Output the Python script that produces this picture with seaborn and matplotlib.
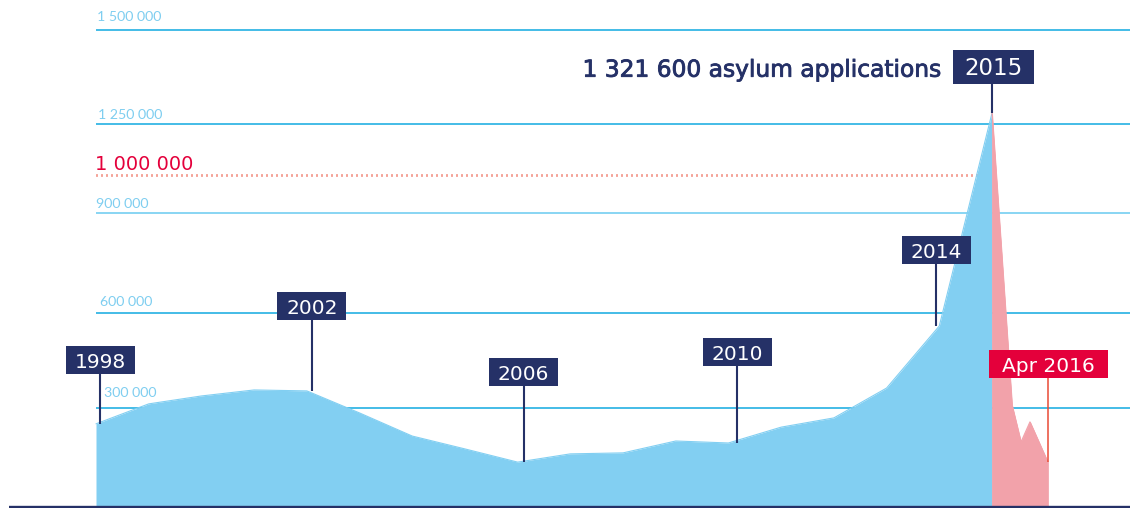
import numpy as np
import matplotlib
matplotlib.use("Agg")
import matplotlib.pyplot as plt
import matplotlib.patheffects as pe
from matplotlib.patches import Rectangle
import seaborn as sns

# ---------------- data ----------------
years = [1998, 1999, 2000, 2001, 2002, 2003, 2004, 2005, 2006, 2007, 2008,
         2009, 2010, 2011, 2012, 2013, 2014, 2015]
applications = [252000, 313000, 338000, 357000, 354000, 285000, 215000, 176000,
                136000, 161000, 164000, 200000, 194000, 242000, 270000, 363000,
                559000, 1321600]
recent_x = [2015.0, 2015.38, 2015.55, 2015.72, 2016.06]
recent_values = [1321600, 309000, 197000, 258000, 136000]

grid_values = [300000, 600000, 900000, 1250000, 1500000]
grid_labels = ["300 000", "600 000", "900 000", "1 250 000", "1 500 000"]
threshold_value = 1000000
threshold_label = "1 000 000"

flag_years = [1998, 2002, 2006, 2010, 2014]
flag_labels = ["1998", "2002", "2006", "2010", "2014"]
peak_year = 2015
peak_label = "2015"
peak_text = "1 321 600 asylum applications"
latest_label = "Apr 2016"

# the chart's own (uneven) value axis: value -> height in px above the baseline
scale_values = [-300000, 0, 300000, 600000, 900000, 1000000, 1250000, 1321600, 1500000, 2000000]
scale_heights = [-99, 0, 99, 194, 294.3, 332, 383.5, 394, 477.5, 665.5]

# ---------------- style ----------------
NAVY = "#253167"
BLUE_AREA = "#82CFF2"
PINK_AREA = "#F2A2AA"
GRID = "#35B6E5"
GRID_LIGHT = "#7FD2F2"
LABEL_BLUE = "#7FCEF0"
RED = "#E4003B"
RED_LINE = "#EA4A35"

W, H = 1137, 508
BASE = 507                      # baseline row in px
PPY = (992 - 96) / 17.0         # px per year


def fwd(v):
    return np.interp(v, scale_values, scale_heights)


def inv(h):
    return np.interp(h, scale_heights, scale_values)


def xd(px):
    return 1998 + (px - 96) / PPY


def yd(py):
    return float(inv(BASE - py))


sns.set_theme(style="white")
plt.rcParams["font.family"] = ["DejaVu Sans"]

fig = plt.figure(figsize=(W / 100, H / 100), dpi=100)
fig.patch.set_facecolor("white")
ax = fig.add_axes([0, 0, 1, 1])
ax.set_yscale("function", functions=(fwd, inv))

# gridlines + labels
grid_colors = [GRID, GRID, GRID_LIGHT, GRID, GRID]
grid_label_x = [104, 100, 96, 98, 97]
grid_label_base = [397, 306, 208, 119, 21]
for v, lab, c, lx, lb in zip(grid_values, grid_labels, grid_colors, grid_label_x, grid_label_base):
    ax.plot([xd(96), xd(1130)], [v, v], color=c, lw=1.3, zorder=1, solid_capstyle="butt")
    ax.text(xd(lx), yd(lb), lab, color=LABEL_BLUE, fontsize=10.2, fontweight="normal",
            family=["Lato", "DejaVu Sans"], va="baseline", ha="left", zorder=1)

# threshold dotted line
ax.plot([xd(96), xd(990)], [threshold_value, threshold_value], color=RED_LINE, lw=2.0,
        linestyle=(0, (0.36, 1.44)), zorder=1, dash_capstyle="butt")
ax.text(xd(95), yd(169.5), threshold_label, color=RED, fontsize=14, va="baseline", ha="left")

# areas
ax.fill_between(years, 0, applications, color=BLUE_AREA, lw=0, zorder=2)
sns.lineplot(x=years, y=applications, color=BLUE_AREA, lw=0.8, ax=ax, zorder=2)
ax.fill_between(recent_x, 0, recent_values, facecolor=PINK_AREA, edgecolor=PINK_AREA,
                lw=0.6, zorder=2.1)
sns.lineplot(x=recent_x, y=recent_values, color=PINK_AREA, lw=0.8, ax=ax, zorder=2.1)

# baseline
ax.plot([xd(9), xd(1130)], [0, 0], color=NAVY, lw=1.7, zorder=5, solid_capstyle="butt")

# flags
flag_post_dx = [4, 5, 6, 9, -3]
flag_bottom = [374, 320, 386, 366, 264]
for yr, lab, dx, bot in zip(flag_years, flag_labels, flag_post_dx, flag_bottom):
    xp = yr + dx / PPY
    val = applications[years.index(yr)]
    ax.plot([xp, xp], [val, yd(bot)], color=NAVY, lw=1.5, zorder=3, solid_capstyle="butt")
    w, h = 69, 28
    ax.add_patch(Rectangle((xp - w / 2 / PPY, yd(bot)), w / PPY, yd(bot - h) - yd(bot),
                           facecolor=NAVY, edgecolor="none", zorder=4))
    ax.text(xp, yd(bot - 6), lab, color="white", fontsize=14.5, ha="center", va="baseline", zorder=5)

# peak flag
pv = applications[years.index(peak_year)]
ax.plot([peak_year, peak_year], [pv, yd(84)], color=NAVY, lw=1.5, zorder=3, solid_capstyle="butt")
ax.add_patch(Rectangle((xd(953), yd(84)), 81 / PPY, yd(50) - yd(84),
                       facecolor=NAVY, edgecolor="none", zorder=4))
ax.text(xd(993.5), yd(75), peak_label, color="white", fontsize=16.5, ha="center", va="baseline", zorder=5)
ax.text(xd(942), yd(76.7), peak_text, color=NAVY, fontsize=16.8, ha="right", va="baseline",
        path_effects=[pe.withStroke(linewidth=0.6, foreground=NAVY)], zorder=5)

# latest flag
lx = recent_x[-1]
ax.plot([lx, lx], [recent_values[-1], yd(378)], color=RED_LINE, lw=1.1, zorder=3, solid_capstyle="butt")
ax.add_patch(Rectangle((xd(989), yd(378)), 119 / PPY, yd(350) - yd(378),
                       facecolor=RED, edgecolor="none", zorder=4))
ax.text(xd(1048.5), yd(372), latest_label, color="white", fontsize=14.5, ha="center", va="baseline", zorder=5)

ax.set_xlim(xd(0), xd(W))
ax.set_ylim(yd(H), yd(0))
ax.set_axis_off()

fig.savefig("out.png", dpi=100, facecolor="white")
